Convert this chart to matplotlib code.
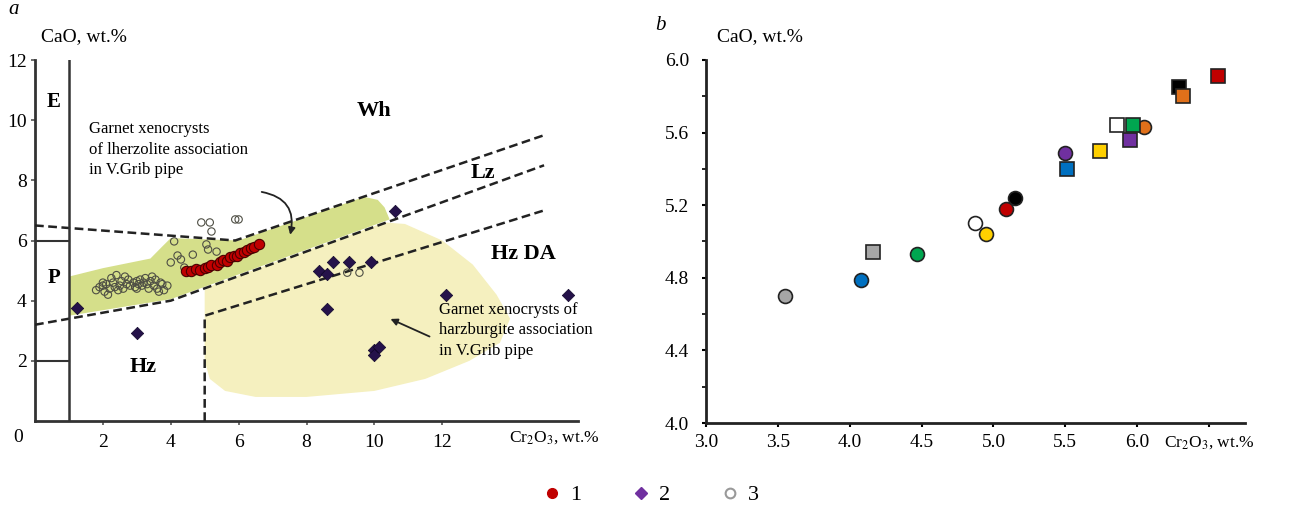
import numpy as np
import matplotlib
matplotlib.use("Agg")
import matplotlib.pyplot as plt
from matplotlib.patches import Polygon, FancyArrowPatch
from matplotlib.lines import Line2D

plt.rcParams['font.family'] = ['Liberation Serif', 'DejaVu Serif']
plt.rcParams['mathtext.fontset'] = 'stix'

# ---------------- Panel a data ----------------
# series 1 (red filled circles)
s1_cr = [4.45, 4.6, 4.75, 4.85, 5.0, 5.1, 5.2, 5.35, 5.45, 5.55, 5.65, 5.75, 5.85,
         5.95, 6.05, 6.15, 6.25, 6.35, 6.45, 6.6]
s1_ca = [4.97, 4.98, 5.05, 5.02, 5.1, 5.12, 5.2, 5.18, 5.3, 5.35, 5.32, 5.45, 5.5,
         5.48, 5.6, 5.62, 5.7, 5.75, 5.8, 5.9]
# series 2 (dark diamonds)
s2_cr = [1.25, 3.0, 8.38, 8.6, 8.77, 9.24, 9.9, 10.6, 8.6, 10.0, 10.15, 10.0, 12.1, 15.7]
s2_ca = [3.77, 2.93, 4.97, 4.87, 5.27, 5.27, 5.3, 6.97, 3.73, 2.37, 2.47, 2.2, 4.2, 4.2]
# series 3 (open circles)
s3_cr = [1.8, 1.9, 2.0, 2.05, 2.1, 2.2, 2.25, 2.3, 2.35, 2.4, 2.5, 2.55, 2.6, 2.7, 2.75,
         2.8, 2.9, 2.95, 3.0, 3.05, 3.1, 3.15, 3.2, 3.3, 3.35, 3.4, 3.5, 3.55, 3.6, 3.7,
         3.75, 3.8, 3.9, 2.15, 2.45, 2.65, 3.25, 3.45, 3.65, 2.0, 3.0,
         4.1, 4.0, 4.3, 4.65, 5.05, 5.1, 5.35, 4.9, 5.15, 5.2, 5.9, 6.0, 4.4, 4.2,
         9.2, 9.56]
s3_ca = [4.35, 4.45, 4.5, 4.3, 4.55, 4.4, 4.75, 4.6, 4.45, 4.85, 4.5, 4.65, 4.4, 4.55,
         4.7, 4.5, 4.6, 4.45, 4.65, 4.55, 4.7, 4.5, 4.6, 4.55, 4.4, 4.65, 4.5, 4.7, 4.4,
         4.6, 4.55, 4.35, 4.5, 4.2, 4.35, 4.8, 4.75, 4.8, 4.3, 4.6, 4.4,
         5.97, 5.27, 5.37, 5.53, 5.87, 5.7, 5.63, 6.6, 6.6, 6.3, 6.7, 6.7, 5.1, 5.5,
         4.93, 4.93]

# classification boundaries (Cr2O3, CaO)
wh_lz_cr = [0.0, 5.9, 15.0]
wh_lz_ca = [6.5, 6.0, 9.5]
lz_hz_cr = [0.0, 4.0, 15.0]
lz_hz_ca = [3.2, 4.0, 8.5]
hzda_cr = [5.0, 5.0, 15.0]
hzda_ca = [0.0, 3.5, 7.0]

# fields
lherz_field_cr = [1.0, 1.0, 2.0, 3.4, 3.75, 4.0, 6.0, 9.7, 10.1, 10.3, 10.45, 4.0, 1.0]
lherz_field_ca = [3.5, 4.8, 5.08, 5.4, 5.8, 6.08, 6.0, 7.45, 7.35, 7.1, 6.7, 4.05, 3.5]
harz_field_cr = [5.0, 5.3, 7.0, 10.3, 10.9, 12.0, 12.9, 13.6, 14.0, 13.7, 12.8, 11.5, 10.0,
                 8.0, 6.5, 5.6, 5.15, 5.0]
harz_field_ca = [4.35, 4.55, 5.25, 6.6, 6.55, 6.0, 5.2, 4.2, 3.4, 2.6, 2.0, 1.4, 1.0,
                 0.8, 0.8, 1.0, 1.4, 2.0]

# ---------------- Panel b data ----------------
b_circ_cr = [3.55, 4.08, 4.47, 4.87, 4.95, 5.09, 5.15, 5.50, 6.05]
b_circ_ca = [4.70, 4.79, 4.93, 5.10, 5.04, 5.18, 5.24, 5.49, 5.63]
b_circ_col = ['#a6a6a6', '#0070c0', '#00a650', '#ffffff', '#ffd000', '#c00000',
              '#000000', '#7030a0', '#e0701a']
b_sq_cr = [4.16, 5.51, 5.74, 5.86, 5.97, 5.95, 6.29, 6.32, 6.56]
b_sq_ca = [4.94, 5.40, 5.50, 5.64, 5.64, 5.56, 5.85, 5.80, 5.91]
b_sq_col = ['#a6a6a6', '#0070c0', '#ffd000', '#ffffff', '#00a650', '#7030a0',
            '#000000', '#e0701a', '#c00000']

a_xticks = [2, 4, 6, 8, 10, 12]
a_yticks = [2, 4, 6, 8, 10, 12]
b_xticks = [3.0, 3.5, 4.0, 4.5, 5.0, 5.5, 6.0, 6.5]
b_xticklabels = ['3.0', '3.5', '4.0', '4.5', '5.0', '5.5', '6.0', 'Cr$_2$O$_3$, wt.%']
b_yticks = [4.0, 4.4, 4.8, 5.2, 5.6, 6.0]

W, H = 1289, 511
fig = plt.figure(figsize=(W / 100, H / 100), dpi=100)

# ================= Panel a =================
axa = fig.add_axes([35 / W, 1 - 421 / H, 543 / W, 361 / H])
axa.set_xlim(0, 16)
axa.set_ylim(0, 12)
for s in ['top', 'right']:
    axa.spines[s].set_visible(False)
for s in ['left', 'bottom']:
    axa.spines[s].set_color('#333333')
    axa.spines[s].set_linewidth(2)

axa.add_patch(Polygon(np.column_stack([harz_field_cr, harz_field_ca]), closed=True,
                      facecolor='#f5f0bf', edgecolor='none', zorder=1))
axa.add_patch(Polygon(np.column_stack([lherz_field_cr, lherz_field_ca]), closed=True,
                      facecolor='#d5df8a', edgecolor='none', zorder=1))

for xs, ys in [(wh_lz_cr, wh_lz_ca), (lz_hz_cr, lz_hz_ca), (hzda_cr, hzda_ca)]:
    axa.plot(xs, ys, color='#222222', lw=1.8, dashes=(3.5, 1.8), zorder=3)

axa.plot([1, 1], [0, 12], color='#333333', lw=1.8, zorder=3)
axa.plot([0, 1], [6, 6], color='#333333', lw=1.5, zorder=3)
axa.plot([0, 1], [2, 2], color='#333333', lw=1.5, zorder=3)

axa.scatter(s3_cr, s3_ca, s=28, facecolors='none', edgecolors='#4f4f45', linewidths=0.8, zorder=4)
axa.scatter(s1_cr, s1_ca, s=55, color='#c00000', edgecolors='#4a0000', linewidths=0.8, zorder=5)
axa.scatter(s2_cr, s2_ca, s=40, marker='D', color='#25124a', edgecolors='#10062a',
            linewidths=0.5, zorder=5)

axa.set_xticks(a_xticks)
axa.set_yticks(a_yticks)
axa.tick_params(axis='both', labelsize=14, length=3, width=1.2, color='#555555')
axa.tick_params(axis='y', pad=3)
axa.tick_params(axis='x', pad=6)
axa.text(-0.5, -0.55, '0', fontsize=14, ha='center', va='center')
axa.text(15.3, -0.55, 'Cr$_2$O$_3$, wt.%', fontsize=12.5, ha='center', va='center')

for lbl, x, y, fs in [('E', 0.55, 10.6, 15), ('P', 0.55, 4.75, 15), ('Hz', 3.2, 1.8, 16),
                      ('Wh', 10.0, 10.3, 16), ('Lz', 13.2, 8.25, 16), ('Hz DA', 14.4, 5.55, 16)]:
    axa.text(x, y, lbl, fontsize=fs, fontweight='bold', ha='center', va='center', zorder=6)

axa.text(1.6, 9.97, 'Garnet xenocrysts\nof lherzolite association\nin V.Grib pipe',
         fontsize=12, ha='left', va='top', linespacing=1.38, zorder=6)
axa.text(11.9, 3.97, 'Garnet xenocrysts of\nharzburgite association\nin V.Grib pipe',
         fontsize=12, ha='left', va='top', linespacing=1.38, zorder=6)

axa.add_patch(FancyArrowPatch((6.6, 7.63), (7.5, 6.1), connectionstyle='arc3,rad=-0.55',
                              arrowstyle='-|>', mutation_scale=10, color='#222222', lw=1.3, zorder=6))
axa.add_patch(FancyArrowPatch((11.7, 2.77), (10.4, 3.43), arrowstyle='-|>',
                              mutation_scale=10, color='#222222', lw=1.3, zorder=6))

# ================= Panel b =================
axb = fig.add_axes([706 / W, 1 - 423 / H, 539 / W, 363 / H])
axb.set_xlim(3.0, 6.75)
axb.set_ylim(4.0, 6.0)
for s in ['top', 'right']:
    axb.spines[s].set_visible(False)
for s in ['left', 'bottom']:
    axb.spines[s].set_color('#222222')
    axb.spines[s].set_linewidth(2)

for x, y, c in zip(b_circ_cr, b_circ_ca, b_circ_col):
    axb.plot(x, y, 'o', ms=10, mfc=c, mec='#222222', mew=1.2, zorder=4)
for x, y, c in zip(b_sq_cr, b_sq_ca, b_sq_col):
    axb.plot(x, y, 's', ms=10.5, mfc=c, mec='#222222', mew=1.2, zorder=4)

axb.set_xticks(b_xticks)
axb.set_xticklabels(b_xticklabels)
axb.set_yticks(b_yticks)
axb.set_yticklabels([f'{v:.1f}' for v in b_yticks])
axb.set_yticks([4.2, 4.6, 5.0, 5.4, 5.8], minor=True)
axb.tick_params(axis='both', which='major', labelsize=14, length=3, width=1.5)
axb.tick_params(axis='y', which='major', pad=9)
axb.tick_params(axis='x', which='major', pad=5)
axb.tick_params(axis='y', which='minor', length=3, width=1.2)
axb.get_xticklabels()[-1].set_fontsize(12.5)

# ================= Figure-level text =================
fig.text(14 / W, 1 - 10 / H, 'a', fontsize=15, style='italic', ha='center', va='center')
fig.text(660 / W, 1 - 25 / H, 'b', fontsize=15, style='italic', ha='center', va='center')
fig.text(41 / W, 1 - 37 / H, 'CaO, wt.%', fontsize=14, ha='left', va='center')
fig.text(717 / W, 1 - 37 / H, 'CaO, wt.%', fontsize=14, ha='left', va='center')

handles = [Line2D([], [], ls='none', marker='o', ms=7, mfc='#c00000', mec='#c00000'),
           Line2D([], [], ls='none', marker='D', ms=6, mfc='#7030a0', mec='#7030a0'),
           Line2D([], [], ls='none', marker='o', ms=7, mfc='none', mec='#999999', mew=1.5)]
fig.legend(handles, ['1', '2', '3'], loc='center', bbox_to_anchor=(650 / W, 1 - 495 / H),
           ncol=3, frameon=False, fontsize=16, handletextpad=0.3, columnspacing=2.2,
           handlelength=1.0)

fig.savefig('out.png', dpi=100)
